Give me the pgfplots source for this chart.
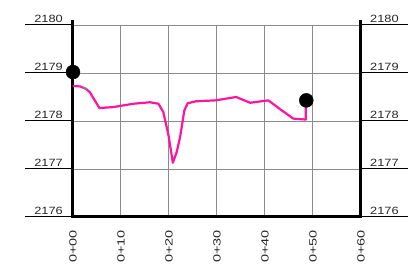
\documentclass[border=0pt]{standalone}
\usepackage{pgfplots}
\pgfplotsset{compat=1.18}
\usepackage{fontspec}
\setmainfont{Liberation Sans}
\definecolor{profmag}{RGB}{255,20,160}
\definecolor{gridgray}{RGB}{140,140,140}
\newcommand{\lab}[1]{\scalebox{1.22}[1]{#1}}
\newcommand{\blab}[1]{\scalebox{1.38}[1]{#1}}
\begin{document}
\begin{tikzpicture}
\useasboundingbox (0pt,0pt) rectangle (408pt,265pt);
\begin{axis}[
  at={(73pt,48pt)}, anchor=south west,
  scale only axis, width=288pt, height=192pt,
  xmin=0, xmax=60, ymin=2176, ymax=2180,
  xtick={0,10,...,60},
  xticklabels={\blab{0+00},\blab{0+10},\blab{0+20},\blab{0+30},\blab{0+40},\blab{0+50},\blab{0+60}},
  xticklabel shift=13pt,
  xticklabel style={rotate=90, anchor=east, inner sep=0pt, font=\fontsize{10.5}{12}\selectfont, color=black!85},
  ytick={2176,...,2180}, yticklabels={},
  tick style={draw=none},
  grid=major, major grid style={gridgray, line width=1pt},
  axis line style={draw=none},
  clip=false,
]
\draw[line width=3pt, line cap=rect] (axis cs:0,2180.08) -- (axis cs:0,2176) -- (axis cs:60,2176) -- (axis cs:60,2180.08);
\pgfplotsinvokeforeach{2176,...,2180}{
  \draw[black, line width=1pt] (axis cs:0,#1) -- ++(-48pt,0pt);
  \draw[black, line width=1pt] (axis cs:60,#1) -- ++(47pt,0pt);
  \node[anchor=south east, inner sep=0pt, font=\fontsize{10.5}{12}\selectfont, color=black!85] at ([xshift=-10pt,yshift=2pt]axis cs:0,#1) {\lab{#1}};
  \node[anchor=south west, inner sep=0pt, font=\fontsize{10.5}{12}\selectfont, color=black!85] at ([xshift=9pt,yshift=2pt]axis cs:60,#1) {\lab{#1}};
}
\addplot[profmag, line width=2.2pt, line join=round] coordinates {
(0,2178.73) (1.5,2178.72) (2.7,2178.67) (3.5,2178.6) (5.5,2178.27) (8.4,2178.29)
(12.6,2178.36) (16.0,2178.39) (17.8,2178.36) (18.8,2178.19) (19.9,2177.7)
(20.8,2177.13) (21.6,2177.35) (22.3,2177.66) (23.2,2178.22) (23.9,2178.37)
(25.6,2178.41) (29.7,2178.43) (34.0,2178.50) (36.9,2178.38) (40.7,2178.43)
(43.1,2178.25) (45.9,2178.05) (48.5,2178.03) (48.5,2178.43)
};
\addplot[gray, line width=1.6pt] coordinates {(2.0,2178.70) (2.9,2178.66)};
\addplot[only marks, mark=*, mark size=7pt, black] coordinates {(0,2179.02) (48.6,2178.43)};
\end{axis}
\end{tikzpicture}
\end{document}
